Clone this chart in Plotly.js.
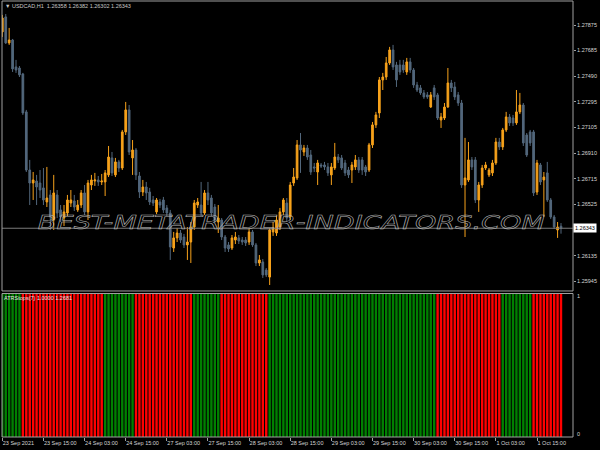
<!DOCTYPE html>
<html><head><meta charset="utf-8">
<script src="https://cdn.plot.ly/plotly-3.0.1.min.js"></script>
<style>html,body{margin:0;padding:0;background:#000;}#chart{width:600px;height:450px;}</style>
</head><body><div id="chart"></div>
<script>
// USDCAD H1 candles (bar index 0..163)
const openP = [
1.27823,1.27936,1.27740,1.27762,1.27559,1.27551,1.27506,1.27220,1.26782,1.26684,
1.26699,1.26684,1.26647,1.26541,1.26594,1.26405,1.26594,1.26481,1.26420,1.26458,
1.26533,1.26549,1.26481,1.26518,1.26609,1.26466,1.26669,1.26699,1.26707,1.26692,
1.26692,1.26745,1.26873,1.26745,1.26843,1.26797,1.27069,1.27235,1.26873,1.26933,
1.26737,1.26616,1.26654,1.26616,1.26556,1.26466,1.26541,1.26556,1.26496,1.26458,
1.26194,1.26270,1.26307,1.26277,1.26217,1.26239,1.26352,1.26518,1.26518,1.26458,
1.26609,1.26571,1.26503,1.26390,1.26405,1.26277,1.26217,1.26194,1.26254,1.26270,
1.26254,1.26254,1.26239,1.26315,1.26217,1.26081,1.26089,1.26028,1.25975,1.26315,
1.26307,1.26352,1.26466,1.26533,1.26428,1.26684,1.26722,1.26971,1.26918,1.26948,
1.26895,1.26805,1.26767,1.26820,1.26820,1.26805,1.26745,1.26797,1.26880,1.26873,
1.26835,1.26782,1.26782,1.26805,1.26858,1.26858,1.26805,1.26782,1.26971,1.27122,
1.27212,1.27461,1.27483,1.27589,1.27687,1.27574,1.27574,1.27574,1.27521,1.27597,
1.27536,1.27423,1.27401,1.27363,1.27348,1.27257,1.27401,1.27348,1.27159,1.27174,
1.27257,1.27438,1.27408,1.27348,1.27287,1.26669,1.26707,1.26858,1.26858,1.26556,
1.26669,1.26797,1.26745,1.26760,1.26835,1.26993,1.26956,1.27084,1.27182,1.27174,
1.27137,1.27220,1.27272,1.27046,1.27069,1.27069,1.26616,1.26820,1.26707,1.26760,
1.26556,1.26428,1.26330,1.26358];
const highP = [
1.27951,1.27958,1.27853,1.27770,1.27612,1.27566,1.27514,1.27235,1.26858,1.26767,
1.26745,1.26782,1.26797,1.26805,1.26631,1.26745,1.26631,1.26518,1.26518,1.26594,
1.26631,1.26594,1.26556,1.26631,1.26669,1.26707,1.26745,1.26760,1.26737,1.26752,
1.26782,1.26963,1.26918,1.26873,1.26858,1.27084,1.27295,1.27272,1.27008,1.26948,
1.26767,1.26707,1.26692,1.26647,1.26586,1.26571,1.26564,1.26579,1.26518,1.26481,
1.26315,1.26345,1.26330,1.26300,1.26352,1.26390,1.26556,1.26571,1.26692,1.26631,
1.26692,1.26594,1.26526,1.26518,1.26420,1.26292,1.26239,1.26292,1.26315,1.26292,
1.26277,1.26277,1.26345,1.26330,1.26232,1.26141,1.26111,1.26043,1.26345,1.26390,
1.26435,1.26496,1.26571,1.26571,1.26692,1.26797,1.27008,1.27061,1.26971,1.26971,
1.26933,1.26835,1.26858,1.26835,1.26843,1.26835,1.26835,1.26986,1.26903,1.26895,
1.26858,1.26805,1.26843,1.26895,1.26880,1.26880,1.26820,1.26986,1.27144,1.27220,
1.27483,1.27514,1.27634,1.27710,1.27725,1.27597,1.27612,1.27612,1.27627,1.27627,
1.27551,1.27446,1.27423,1.27385,1.27370,1.27370,1.27423,1.27363,1.27212,1.27287,
1.27551,1.27461,1.27446,1.27370,1.27310,1.27024,1.26993,1.26880,1.26880,1.26692,
1.26820,1.26843,1.26797,1.26858,1.27024,1.27024,1.27099,1.27220,1.27204,1.27197,
1.27385,1.27363,1.27287,1.27061,1.27084,1.27084,1.26858,1.26835,1.26767,1.26843,
1.26571,1.26443,1.26390,1.26382];
const lowP = [
1.27785,1.27732,1.27725,1.27521,1.27514,1.27483,1.27197,1.26767,1.26518,1.26556,
1.26518,1.26571,1.26518,1.26503,1.26330,1.26330,1.26420,1.26390,1.26360,1.26435,
1.26503,1.26473,1.26466,1.26496,1.26443,1.26405,1.26631,1.26662,1.26662,1.26669,
1.26586,1.26729,1.26737,1.26729,1.26767,1.26782,1.27046,1.26895,1.26745,1.26707,
1.26571,1.26586,1.26556,1.26518,1.26511,1.26450,1.26496,1.26458,1.26435,1.26104,
1.26164,1.26239,1.26232,1.26194,1.26104,1.26081,1.26330,1.26496,1.26435,1.26443,
1.26518,1.26435,1.26383,1.26307,1.26254,1.26164,1.26164,1.26179,1.26224,1.26224,
1.26217,1.26209,1.26217,1.26202,1.26058,1.26058,1.25968,1.25975,1.25915,1.26285,
1.26285,1.26330,1.26443,1.26390,1.26405,1.26662,1.26707,1.26760,1.26888,1.26858,
1.26745,1.26767,1.26669,1.26797,1.26782,1.26737,1.26669,1.26782,1.26835,1.26782,
1.26737,1.26722,1.26684,1.26782,1.26760,1.26745,1.26737,1.26767,1.26948,1.27099,
1.27174,1.27385,1.27461,1.27574,1.27536,1.27408,1.27499,1.27514,1.27499,1.27514,
1.27401,1.27370,1.27348,1.27318,1.27318,1.27250,1.27310,1.27159,1.27099,1.27159,
1.27250,1.27370,1.27310,1.27265,1.26647,1.26277,1.26692,1.26782,1.26533,1.26466,
1.26647,1.26782,1.26729,1.26737,1.26820,1.26933,1.26933,1.27069,1.27114,1.27114,
1.27122,1.27204,1.26963,1.26880,1.26963,1.26586,1.26594,1.26669,1.26428,1.26541,
1.26413,1.26337,1.26270,1.26302];
const closeP = [
1.27928,1.27740,1.27762,1.27544,1.27536,1.27499,1.27212,1.26782,1.26684,1.26707,
1.26654,1.26631,1.26556,1.26571,1.26428,1.26609,1.26458,1.26428,1.26466,1.26556,
1.26556,1.26503,1.26518,1.26609,1.26466,1.26684,1.26707,1.26707,1.26692,1.26699,
1.26760,1.26880,1.26760,1.26843,1.26797,1.27069,1.27235,1.26918,1.26933,1.26745,
1.26616,1.26654,1.26609,1.26541,1.26533,1.26556,1.26518,1.26481,1.26458,1.26202,
1.26270,1.26307,1.26254,1.26217,1.26239,1.26352,1.26533,1.26541,1.26458,1.26609,
1.26556,1.26458,1.26405,1.26420,1.26277,1.26194,1.26187,1.26270,1.26277,1.26247,
1.26239,1.26232,1.26315,1.26217,1.26081,1.26104,1.25991,1.25991,1.26330,1.26345,
1.26405,1.26466,1.26556,1.26420,1.26669,1.26729,1.26971,1.26933,1.26948,1.26880,
1.26767,1.26797,1.26835,1.26812,1.26805,1.26760,1.26805,1.26880,1.26858,1.26797,
1.26760,1.26745,1.26820,1.26858,1.26782,1.26782,1.26767,1.26971,1.27122,1.27197,
1.27461,1.27483,1.27589,1.27687,1.27559,1.27461,1.27521,1.27536,1.27597,1.27536,
1.27423,1.27385,1.27363,1.27333,1.27333,1.27348,1.27333,1.27174,1.27182,1.27257,
1.27438,1.27401,1.27333,1.27287,1.26669,1.26722,1.26858,1.26805,1.26556,1.26669,
1.26797,1.26820,1.26782,1.26835,1.26993,1.26956,1.27084,1.27182,1.27137,1.27137,
1.27220,1.27272,1.26986,1.26895,1.26986,1.26609,1.26835,1.26692,1.26729,1.26556,
1.26428,1.26352,1.26352,1.26343];

// ATRStops(7) histogram: value per bar and trend (1 = up/green, 0 = down/red)
const atrHist = [
1,1,1,1,1,1,1,1,1,1, 1,1,1,1,1,1,1,1,1,1, 1,1,1,1,1,1,1,1,1,1, 1,1,1,1,1,1,1,1,1,1,
1,1,1,1,1,1,1,1,1,1, 1,1,1,1,1,1,1,1,1,1, 1,1,1,1,1,1,1,1,1,1, 1,1,1,1,1,1,1,1,1,1,
1,1,1,1,1,1,1,1,1,1, 1,1,1,1,1,1,1,1,1,1, 1,1,1,1,1,1,1,1,1,1, 1,1,1,1,1,1,1,1,1,1,
1,1,1,1,1,1,1,1,1,1, 1,1,1,1,1,1,1,1,1,1, 1,1,1,1,1,1,1,1,1,1, 1,1,1,1,1,1,1,1,1,1,
1,1,1,1];
const atrTrend = [
1,1,1,1,1,1,0,0,0,0, 0,0,0,0,0,0,0,0,0,0, 0,0,0,0,0,0,0,0,0,0, 1,1,1,1,1,1,1,1,1,0,
0,0,0,0,0,0,0,0,0,0, 0,0,0,0,0,0,1,1,1,1, 1,1,1,1,0,0,0,0,0,0, 0,0,0,0,0,0,0,0,1,1,
1,1,1,1,1,1,1,1,1,1, 1,1,1,1,1,1,1,1,1,1, 1,1,1,1,1,1,1,1,1,1, 1,1,1,1,1,1,1,1,1,1,
1,1,1,1,1,1,1,0,0,0, 0,0,0,0,0,0,0,0,0,0, 0,0,0,0,0,0,1,1,1,1, 1,1,1,1,1,0,0,0,0,0,
0,0,0,0];

const timeTickIdx = [0,12,24,36,48,60,72,84,96,108,120,132,144,156];
const timeTickText = ['23 Sep 2021','23 Sep 15:00','24 Sep 03:00','24 Sep 15:00','27 Sep 03:00',
  '27 Sep 15:00','28 Sep 03:00','28 Sep 15:00','29 Sep 03:00','29 Sep 15:00','30 Sep 03:00',
  '30 Sep 15:00','1 Oct 03:00','1 Oct 15:00'];
const priceTicks = [1.27875,1.27685,1.27490,1.27295,1.27105,1.26910,1.26715,1.26525,1.26135,1.25945];
const lastPrice = 1.26343;
const headerText = '\u25BC USDCAD,H1\u00a0\u00a01.26358 1.26382 1.26302 1.26343';
const atrLabel = 'ATRStops(7) 1.0000 1.2681';
const watermark = 'BEST-METATRADER-INDICATORS.COM';

const bars = openP.map((_, i) => i);
const FONT = 'Liberation Sans, Arial, sans-serif';
const TXT = '#d6d6d6';
const BORDER = '#a0a0a0';
const UP = '#f7a21b', DN = '#52677c';
const xr = [-0.09, 166.5];
const topDom = [0.3349, 1], botDom = [0, 0.3291];

const candle = {
  type: 'candlestick', x: bars, open: openP, high: highP, low: lowP, close: closeP,
  xaxis: 'x', yaxis: 'y', whiskerwidth: 0, hoverinfo: 'skip', showlegend: false,
  increasing: {line: {color: UP, width: 1}, fillcolor: UP},
  decreasing: {line: {color: DN, width: 1}, fillcolor: DN}
};
const hist = {
  type: 'bar', x: bars, y: atrHist, xaxis: 'x2', yaxis: 'y2', hoverinfo: 'skip', showlegend: false,
  marker: {color: atrTrend.map(v => v ? '#008000' : '#ff0000'), line: {width: 0}}
};

const layout = {
  width: 600, height: 450, margin: {l: 2, r: 27, t: 1, b: 13},
  paper_bgcolor: '#000', plot_bgcolor: '#000', bargap: 0.3, showlegend: false,
  font: {family: FONT, size: 5.5, color: TXT},
  xaxis: {domain: [0, 1], anchor: 'y', range: xr, showticklabels: false, ticks: '', showgrid: false,
          zeroline: false, rangeslider: {visible: false}},
  yaxis: {domain: topDom, anchor: 'x', side: 'right', range: [1.25870, 1.28056],
          tickvals: priceTicks, tickformat: '.5f', ticks: 'outside', ticklen: 2, tickcolor: BORDER,
          showgrid: false, zeroline: false, tickfont: {family: FONT, size: 5.5, color: TXT}},
  xaxis2: {domain: [0, 1], anchor: 'y2', range: xr, tickvals: timeTickIdx, ticktext: timeTickText,
           tickangle: 0, ticks: 'outside', ticklen: 3, tickcolor: BORDER, ticklabelposition: 'outside right',
           showgrid: false, zeroline: false, tickfont: {family: FONT, size: 5.5, color: TXT}},
  yaxis2: {domain: botDom, anchor: 'x2', side: 'right', range: [0, 1], showticklabels: false,
           ticks: '', showgrid: false, zeroline: false},
  shapes: [
    {type: 'line', xref: 'paper', x0: 0, x1: 1, yref: 'y', y0: lastPrice, y1: lastPrice,
     line: {color: '#7c7c7c', width: 1}},
    {type: 'rect', xref: 'paper', yref: 'paper', x0: 0, x1: 1, y0: topDom[0], y1: topDom[1],
     line: {color: BORDER, width: 1}, fillcolor: 'rgba(0,0,0,0)'},
    {type: 'rect', xref: 'paper', yref: 'paper', x0: 0, x1: 1, y0: botDom[0], y1: botDom[1],
     line: {color: BORDER, width: 1}, fillcolor: 'rgba(0,0,0,0)'}
  ],
  annotations: [
    {text: watermark, xref: 'paper', yref: 'paper', x: 0.507, y: 0.493, showarrow: false,
     xanchor: 'center', yanchor: 'middle',
     font: {family: 'DejaVu Sans', size: 19, style: 'italic', color: 'rgba(0,0,0,0)'}},
    {text: headerText, xref: 'paper', yref: 'paper', x: 0.002, y: 0.9885, showarrow: false,
     xanchor: 'left', yanchor: 'middle', font: {family: FONT, size: 5.5, color: '#c8c8c8'}},
    {text: atrLabel, xref: 'paper', yref: 'paper', x: 0.0005, y: 0.3188, showarrow: false,
     xanchor: 'left', yanchor: 'middle', font: {family: FONT, size: 5.5, color: '#e0e0e0'}},
    {text: '1', xref: 'paper', yref: 'paper', x: 1, xshift: 2, y: 0.3234, showarrow: false,
     xanchor: 'left', yanchor: 'middle', font: {family: FONT, size: 5.5, color: TXT}},
    {text: '0', xref: 'paper', yref: 'paper', x: 1, xshift: 2, y: 0.0069, showarrow: false,
     xanchor: 'left', yanchor: 'middle', font: {family: FONT, size: 5.5, color: TXT}},
    {text: lastPrice.toFixed(5), xref: 'paper', yref: 'y', x: 1, xshift: 0, y: lastPrice, showarrow: false,
     xanchor: 'left', yanchor: 'middle', bgcolor: '#ffffff', borderpad: 1,
     font: {family: FONT, size: 5.5, color: '#000000'}}
  ]
};

Plotly.newPlot('chart', [candle, hist], layout, {staticPlot: true, displayModeBar: false}).then(gd => {
  gd.querySelectorAll('text.annotation-text').forEach(t => {
    if (t.textContent === watermark) {
      t.setAttribute('textLength', '507');
      t.setAttribute('lengthAdjust', 'spacingAndGlyphs');
      t.style.fill = 'none';
      t.style.stroke = '#b4b4b4';
      t.style.strokeWidth = '0.5px';
    }
  });
});
</script>
</body></html>
